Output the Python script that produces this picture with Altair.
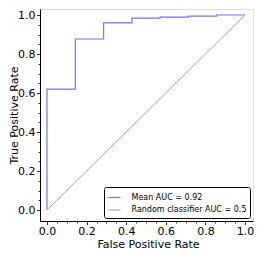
import altair as alt
import pandas as pd

# ROC curve (mean) - step function
fpr = [0.0, 0.0, 0.143, 0.286, 0.429, 0.571, 0.714, 0.857, 1.0]
tpr = [0.0, 0.62, 0.877, 0.96, 0.984, 0.989, 0.994, 1.0, 1.0]

# random classifier diagonal
diag_fpr = [0.0, 1.0]
diag_tpr = [0.0, 1.0]

series_names = ["Mean AUC = 0.92", "Random classifier AUC = 0.5"]
series_colors = ["#7373ff", "#777777"]
series_widths = [1.2, 0.7]

tick_values = [0.0, 0.05, 0.1, 0.15, 0.2, 0.25, 0.3, 0.35, 0.4, 0.45, 0.5,
               0.55, 0.6, 0.65, 0.7, 0.75, 0.8, 0.85, 0.9, 0.95, 1.0]

roc_df = pd.DataFrame({
    "x": fpr, "y": tpr,
    "series": series_names[0],
    "order": list(range(len(fpr))),
})
diag_df = pd.DataFrame({
    "x": diag_fpr, "y": diag_tpr,
    "series": series_names[1],
    "order": list(range(len(diag_fpr))),
})

FONT = "DejaVu Sans"
minor_test = "abs(datum.value*5 - round(datum.value*5)) > 0.001"
label_expr = ("abs(datum.value*5 - round(datum.value*5)) < 0.001 ? "
              "format(datum.value, '.1f') : ''")

W, H = 213, 212

x_axis = alt.Axis(
    values=tick_values, labelExpr=label_expr, grid=False,
    tickSize={"condition": {"test": minor_test, "value": 2}, "value": 3.5},
    tickColor="black", tickWidth=0.8, domainColor="black", domainWidth=1,
    labelFont=FONT, labelFontSize=11, labelColor="black", labelPadding=1,
    labelOverlap=False, labelFlush=False,
    title="False Positive Rate", titleFont=FONT, titleFontSize=11,
    titleFontWeight="normal", titleColor="black",
    titleX=108, titleY=17.5, titleBaseline="top", titleAlign="center",
)
y_axis = alt.Axis(
    values=tick_values, labelExpr=label_expr, grid=False,
    tickSize={"condition": {"test": minor_test, "value": 2}, "value": 3.5},
    tickColor="black", tickWidth=0.8, domainColor="black", domainWidth=1,
    labelFont=FONT, labelFontSize=11, labelColor="black", labelPadding=1.5,
    labelOverlap=False, labelFlush=False,
    title="True Positive Rate", titleFont=FONT, titleFontSize=11,
    titleFontWeight="normal", titleColor="black",
    titleX=-21, titleY=H / 2, titleAngle=270, titleBaseline="bottom",
    titleAlign="center",
)

x_scale = alt.Scale(domain=[-0.0354, 1.0404], nice=False, zero=False)
y_scale = alt.Scale(domain=[-0.0564, 1.0308], nice=False, zero=False)

legend = alt.Legend(
    title=None, orient="bottom-right", offset=3,
    symbolType="stroke", symbolSize=144, symbolStrokeWidth=1.2,
    labelFont=FONT, labelFontSize=8, labelColor="black", labelOffset=10,
    rowPadding=2, padding=3.5, strokeColor="black", fillColor="white",
    cornerRadius=2, labelLimit=300,
)

color_enc = alt.Color("series:N",
                      scale=alt.Scale(domain=series_names, range=series_colors),
                      legend=legend)
width_enc = alt.StrokeWidth("series:N",
                            scale=alt.Scale(domain=series_names, range=series_widths),
                            legend=legend)

roc = alt.Chart(roc_df).mark_line(interpolate="step-after", clip=True).encode(
    x=alt.X("x:Q", scale=x_scale, axis=x_axis),
    y=alt.Y("y:Q", scale=y_scale, axis=y_axis),
    color=color_enc,
    strokeWidth=width_enc,
    order="order:Q",
)
diag = alt.Chart(diag_df).mark_line(clip=True).encode(
    x=alt.X("x:Q", scale=x_scale, axis=x_axis),
    y=alt.Y("y:Q", scale=y_scale, axis=y_axis),
    color=color_enc,
    strokeWidth=width_enc,
    order="order:Q",
)

chart = alt.layer(diag, roc).properties(
    width=W, height=H,
    autosize=alt.AutoSizeParams(type="none"),
    padding={"left": 32, "top": 1, "right": 1, "bottom": 29},
).configure_view(stroke="black", strokeWidth=1).configure(background="white")

chart.save("out.html", embed_options={"renderer": "svg", "actions": False})
